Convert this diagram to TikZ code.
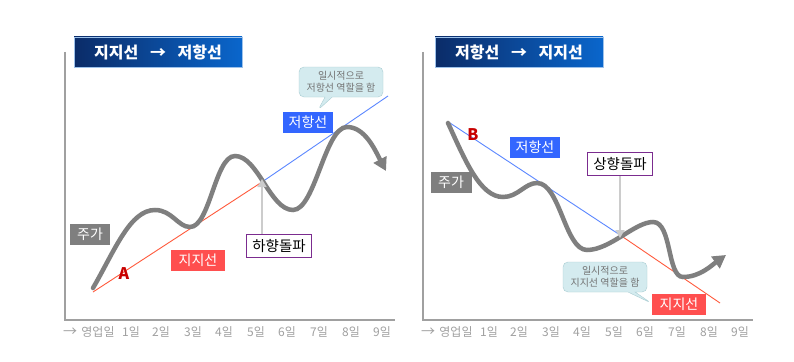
\documentclass[tikz,border=0pt]{standalone}
\usepackage{fontspec}
\setmainfont{Noto Sans CJK KR}
\usepackage{xcolor}
\usetikzlibrary{arrows.meta,shapes.callouts}
\definecolor{navy}{HTML}{0B2C68}
\definecolor{titleblue}{HTML}{0A66CC}
\definecolor{axisgray}{HTML}{A0A0A0}
\definecolor{pricegray}{HTML}{7F7F7F}
\definecolor{suppred}{HTML}{FF5A3C}
\definecolor{resblue}{HTML}{5B87FF}
\definecolor{tagred}{HTML}{FF4F4F}
\definecolor{tagblue}{HTML}{3366FF}
\definecolor{darkred}{HTML}{C80000}
\definecolor{breakpurple}{HTML}{7B2C8F}
\definecolor{memofill}{HTML}{D4EBEF}
\definecolor{memoline}{HTML}{A9CDD2}

\begin{document}
\begin{tikzpicture}[x=1pt,y=-1pt,
    titlebar/.style={minimum width=168pt,minimum height=30pt,inner sep=0pt,
        left color=navy,right color=titleblue,draw=titleblue!40,text=white,
        font=\bfseries\fontsize{16}{16}\selectfont},
    tagbox/.style={text=white,inner sep=0pt,minimum width=50pt,minimum height=21pt,
        font=\fontsize{14}{14}\selectfont},
    breakbox/.style={draw=breakpurple,line width=1.2pt,fill=white,inner sep=0pt,
        minimum width=65pt,minimum height=23pt,font=\fontsize{14.5}{14.5}\selectfont},
    memo/.style={rectangle callout,rounded corners=5pt,fill=memofill,draw=memoline,
        minimum width=84pt,minimum height=30pt,inner sep=0pt,align=center,
        text=black!55,font=\fontsize{10}{12}\selectfont},
    ptlabel/.style={text=darkred,inner sep=0pt,font=\bfseries\fontsize{16}{16}\selectfont},
    daylbl/.style={text=axisgray,inner sep=0pt,font=\fontsize{12}{12}\selectfont},
    price/.style={pricegray,line width=4.5pt,line cap=round},
    hint/.style={black!20,line width=1.5pt}]
\useasboundingbox[fill=white] (0,0) rectangle (794,361);

\foreach \p/\off in {L/0,R/358}{
    \coordinate (top\p) at (65+\off,52);
    \coordinate (org\p) at (65+\off,320);
    \coordinate (end\p) at (395+\off,320);
    \draw[axisgray,line width=1.5pt] (top\p) -- (org\p) -- (end\p);
    \node[daylbl,font=\fontsize{14}{14}\selectfont] (arr\p) at (70+\off,332) {→};
    \node[daylbl] (biz\p) at (98+\off,332) {영업일};
    \foreach \d/\x in {1/131,2/161,3/193,4/224,5/256,6/287,7/319,8/351,9/382}
        \node[daylbl] (d\p\d) at (\x+\off,332) {\d 일};
}

\node[titlebar] (t1) at (158,52) {지지선\enspace\ →\enspace\ 저항선};
\coordinate (sA) at (93,292);
\coordinate (x1) at (262,182);
\coordinate (rE) at (388,96);
\draw[suppred,line width=0.9pt] (sA) -- (x1);
\draw[resblue,line width=0.9pt] (x1) -- (rE);
\draw[price,-{Triangle[length=13pt,width=14pt]}] (93,288)
    .. controls (115,250) and (130,210) .. (155,210)
    .. controls (172,210) and (178,227) .. (190,227)
    .. controls (210,227) and (215,156) .. (235,156)
    .. controls (258,156) and (270,210) .. (293,210)
    .. controls (315,210) and (325,127) .. (347,127)
    .. controls (365,127) and (375,150) .. (386,171);
\node[tagbox,fill=pricegray,minimum width=40pt] (price1) at (90,234) {주가};
\node[ptlabel] (ptA) at (124,274) {A};
\node[tagbox,fill=tagred,minimum width=54pt] (supp1) at (198,260) {지지선};
\node[tagbox,fill=tagblue] (res1) at (308,122) {저항선};
\node[breakbox] (brk1) at (279,246) {하향돌파};
\draw[hint,-{Triangle[length=8pt,width=9pt]}] (brk1.north -| x1) -- ([yshift=3pt]x1);
\node[memo,callout absolute pointer={(318,110)}] (memo1) at (341,82)
    {일시적으로\\저항선 역할을 함};

\node[titlebar] (t2) at (519,52) {저항선\enspace\ →\enspace\ 지지선};
\coordinate (rA) at (450,123);
\coordinate (x2) at (620,235);
\coordinate (sE) at (720,303);
\draw[resblue,line width=0.9pt] (rA) -- (x2);
\draw[suppred,line width=0.9pt] (x2) -- (sE);
\draw[price,-{Triangle[length=13pt,width=14pt]}] (448,123)
    .. controls (465,160) and (480,197) .. (503,197)
    .. controls (518,197) and (525,183) .. (537,183)
    .. controls (560,183) and (565,250) .. (587,250)
    .. controls (610,250) and (635,222) .. (653,222)
    .. controls (672,222) and (667,277) .. (683,277)
    .. controls (700,277) and (712,265) .. (726,255);
\node[ptlabel] (ptB) at (473,135) {B};
\node[tagbox,fill=tagblue] (res2) at (535,147) {저항선};
\node[tagbox,fill=pricegray,minimum width=41pt] (price2) at (451,182) {주가};
\node[breakbox] (brk2) at (620,164) {상향돌파};
\draw[hint,-{Triangle[length=8pt,width=9pt]}] (brk2.south) -- ([yshift=-3pt]x2);
\node[memo,callout absolute pointer={(651,303)}] (memo2) at (605,277)
    {일시적으로\\지지선 역할을 함};
\node[tagbox,fill=tagred,minimum width=54pt] (supp2) at (679,304) {지지선};
\end{tikzpicture}
\end{document}
